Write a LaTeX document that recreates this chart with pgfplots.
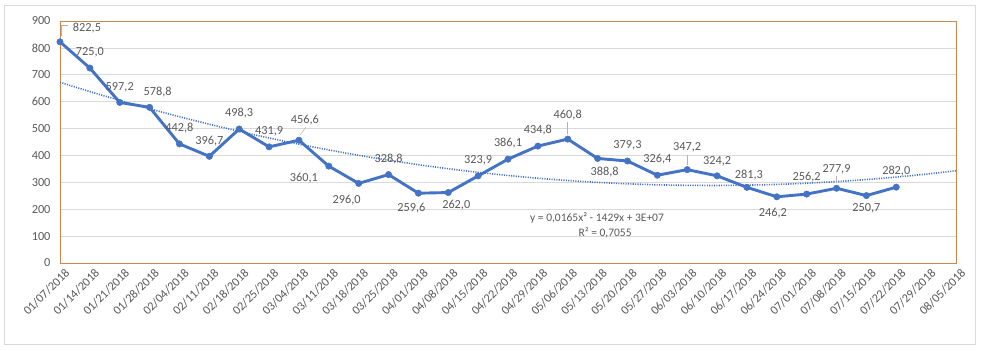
\documentclass[border=0pt]{standalone}
\usepackage{pgfplots}
\usepackage{pgfplotstable}
\pgfplotsset{compat=1.18}
\usepackage{fontspec}
\setmainfont{Carlito}
\definecolor{serblue}{HTML}{4472C4}
\definecolor{txtgray}{HTML}{595959}
\definecolor{gridgray}{HTML}{D9D9D9}
\definecolor{frameorange}{RGB}{205,135,75}

\pgfplotstableread{
x y dx dy label
0 822.5 27 14 822,5
1 725.0 0 16 725,0
2 597.2 0 15 597,2
3 578.8 8 15 578,8
4 442.8 0 16 442,8
5 396.7 0 15 396,7
6 498.3 0 16 498,3
7 431.9 0 16 431,9
8 456.6 6 20 456,6
9 360.1 -25 -12 360,1
10 296.0 -12 -17 296,0
11 328.8 0 15 328,8
12 259.6 -7 -15 259,6
13 262.0 8 -13 262,0
14 323.9 0 16 323,9
15 386.1 0 16 386,1
16 434.8 0 16 434,8
17 460.8 0 24 460,8
18 388.8 7 -14 388,8
19 379.3 0 16 379,3
20 326.4 0 16 326,4
21 347.2 0 22 347,2
22 324.2 0 15 324,2
23 281.3 2 12 281,3
24 246.2 -4 -16 246,2
25 256.2 0 17 256,2
26 277.9 0 19 277,9
27 250.7 0 -13 250,7
28 282.0 0 16 282,0
}\datatable

\pgfplotstableread{
x y
0 672.0
1 637.6
2 604.8
3 573.6
4 544.0
5 516.0
6 489.7
7 465.0
8 441.9
9 420.4
10 400.5
11 382.3
12 365.6
13 350.6
14 337.2
15 325.4
16 315.3
17 306.7
18 299.8
19 294.5
20 290.8
21 288.8
22 288.3
23 289.5
24 292.3
25 296.7
26 302.7
27 310.4
28 319.6
29 330.5
30 343.0
}\trendtable

\begin{document}
\begin{tikzpicture}
\begin{axis}[
  scale only axis,
  width=896bp, height=242bp,
  xmin=0, xmax=30, ymin=0, ymax=900,
  xtick={0,...,30},
  xticklabels={01/07/2018,01/14/2018,01/21/2018,01/28/2018,02/04/2018,02/11/2018,02/18/2018,02/25/2018,03/04/2018,03/11/2018,03/18/2018,03/25/2018,04/01/2018,04/08/2018,04/15/2018,04/22/2018,04/29/2018,05/06/2018,05/13/2018,05/20/2018,05/27/2018,06/03/2018,06/10/2018,06/17/2018,06/24/2018,07/01/2018,07/08/2018,07/15/2018,07/22/2018,07/29/2018,08/05/2018},
  ytick={0,100,...,900},
  ymajorgrids,
  grid style={gridgray, line width=0.75pt},
  major tick length=0pt,
  axis line style={frameorange, line width=0.9pt},
  tick label style={font=\fontsize{12.3bp}{14bp}\selectfont, text=txtgray},
  yticklabel style={xshift=-6bp},
  xticklabel style={rotate=45, anchor=north east, xshift=3bp, yshift=-3bp},
  /pgf/number format/assume math mode=true,
  clip=false,
]
\addplot[serblue, line width=1.6pt, dash pattern=on 1.1pt off 1.3pt, smooth] table[x=x, y=y] {\trendtable};
\addplot[serblue, line width=2.9bp, mark=*, mark size=3.2bp,
  mark options={solid, fill=serblue, draw=serblue, line width=0.5pt},
  nodes near coords, point meta=explicit symbolic,
  visualization depends on={\thisrow{dx} \as \dx},
  visualization depends on={\thisrow{dy} \as \dy},
  every node near coord/.append style={anchor=center, xshift=\dx bp, yshift=\dy bp,
     font=\fontsize{12.3bp}{14bp}\selectfont, text=txtgray, inner sep=0pt}
] table[x=x, y=y, meta=label] {\datatable};
% leader lines
\draw[gray!60, line width=0.5pt] ([yshift=5bp]axis cs:17,460.8) -- ++(0,12bp);
\draw[gray!60, line width=0.5pt] ([yshift=5bp]axis cs:21,347.2) -- ++(0,10bp);
\draw[gray!60, line width=0.5pt] ([yshift=5bp]axis cs:26,277.9) -- ++(0,7bp);
\draw[gray!60, line width=0.5pt] ([xshift=1bp,yshift=5bp]axis cs:8,456.6) -- ++(6bp,8bp);
\draw[gray!60, line width=0.5pt] ([xshift=1bp,yshift=6bp]axis cs:0,822.5) -- ++(0,11bp) -- ++(7bp,0);
\node[font=\fontsize{11.5bp}{13bp}\selectfont, text=txtgray] at (axis cs:17.98,167) {y = 0,0165x² - 1429x + 3E+07};
\node[font=\fontsize{11.5bp}{13bp}\selectfont, text=txtgray] at (axis cs:18.25,111.6) {R² = 0,7055};
\coordinate (nw) at (rel axis cs:0,1);
\coordinate (se) at (rel axis cs:1,0);
\end{axis}
\draw[gridgray, line width=0.75pt] ([shift={(-56bp,16bp)}]nw) rectangle ([shift={(19bp,-81bp)}]se);
\pgfresetboundingbox
\path[use as bounding box] ([shift={(-60bp,21bp)}]nw) rectangle ([shift={(27bp,-88bp)}]se);
\end{tikzpicture}
\end{document}
